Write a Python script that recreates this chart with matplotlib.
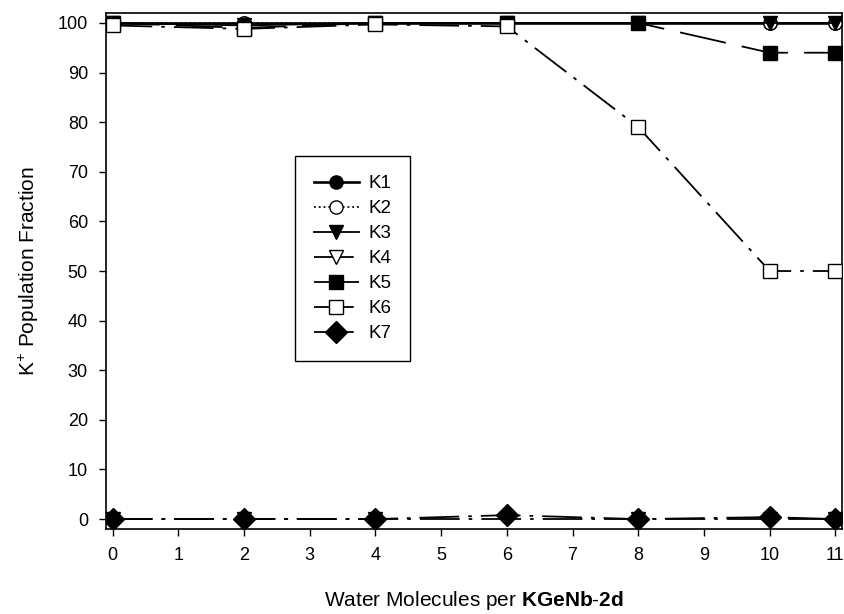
import matplotlib.pyplot as plt

plt.rcParams['font.family'] = ['Liberation Sans', 'DejaVu Sans']
plt.rcParams['mathtext.fontset'] = 'custom'
plt.rcParams['mathtext.rm'] = 'Liberation Sans'
plt.rcParams['mathtext.bf'] = 'Liberation Sans:bold'

# water loading and K+ site occupancies (%)
water = [0, 2, 4, 6, 8, 10, 11]
k1 = [100, 100, 100, 100, 100, 100, 100]
k2 = [100, 100, 100, 100, 100, 100, 100]
k3 = [100, 99.5, 100, 100, 100, 100, 100]
k4 = [0, 0, 0, 0, 0, 0, 0]
k5 = [100, 99, 100, 100, 100, 94, 94]
k6 = [99.5, 98.8, 99.7, 99.3, 79, 50, 50]
k7 = [0, 0, 0, 0.8, 0, 0.4, 0]

fig = plt.figure(figsize=(8.45, 6.14), dpi=100)
ax = fig.add_axes([0.1254, 0.1384, 0.8710, 0.8404])

lw = 1.3
ms = 9.5
ax.plot(water, k4, color='black', lw=lw, dashes=(22, 5, 2, 5), marker='v',
        ms=ms, mfc='white', mec='black', label='K4', zorder=2)
ax.plot(water, k7, color='black', lw=lw, dashes=(22, 5, 2, 5), marker='D',
        ms=ms * 1.15, mfc='black', mec='black', label='K7', zorder=3)
ax.plot(water, k1, color='black', lw=lw + 0.6, ls='-', marker='o',
        ms=ms, mfc='black', mec='black', label='K1', zorder=2)
ax.plot(water, k2, color='black', lw=lw, ls=':', marker='o',
        ms=ms, mfc='white', mec='black', label='K2', zorder=3)
ax.plot(water, k3, color='black', lw=lw, ls='-', marker='v',
        ms=ms, mfc='black', mec='black', label='K3', zorder=4)
ax.plot(water, k5, color='black', lw=lw, dashes=(26, 9), marker='s',
        ms=ms, mfc='black', mec='black', label='K5', zorder=5)
ax.plot(water, k6, color='black', lw=lw, dashes=(22, 5, 2, 5), marker='s',
        ms=ms, mfc='white', mec='black', label='K6', zorder=6)

ax.set_xlim(-0.1, 11.1)
ax.set_ylim(-2, 102)
ax.set_xticks(range(12))
ax.set_yticks(range(0, 101, 10))
ax.tick_params(direction='out', length=5, width=1, labelsize=13, pad=8)
for s in ax.spines.values():
    s.set_linewidth(1.2)

ax.set_xlabel('Water Molecules per $\\mathbf{KGeNb}$-$\\mathbf{2d}$',
              fontsize=15, labelpad=18)
ax.set_ylabel('K$^{+}$ Population Fraction', fontsize=15, labelpad=12)

handles, labels = ax.get_legend_handles_labels()
order = ['K1', 'K2', 'K3', 'K4', 'K5', 'K6', 'K7']
hl = dict(zip(labels, handles))
leg = ax.legend([hl[k] for k in order], order, loc='upper left',
                bbox_to_anchor=(0.257, 0.722), fontsize=13.5, fancybox=False,
                edgecolor='black', framealpha=1, handlelength=2.4,
                borderpad=1.0, labelspacing=0.42, handletextpad=0.5,
                borderaxespad=0)
leg.get_frame().set_linewidth(1.0)

fig.savefig('out.png', dpi=100)
